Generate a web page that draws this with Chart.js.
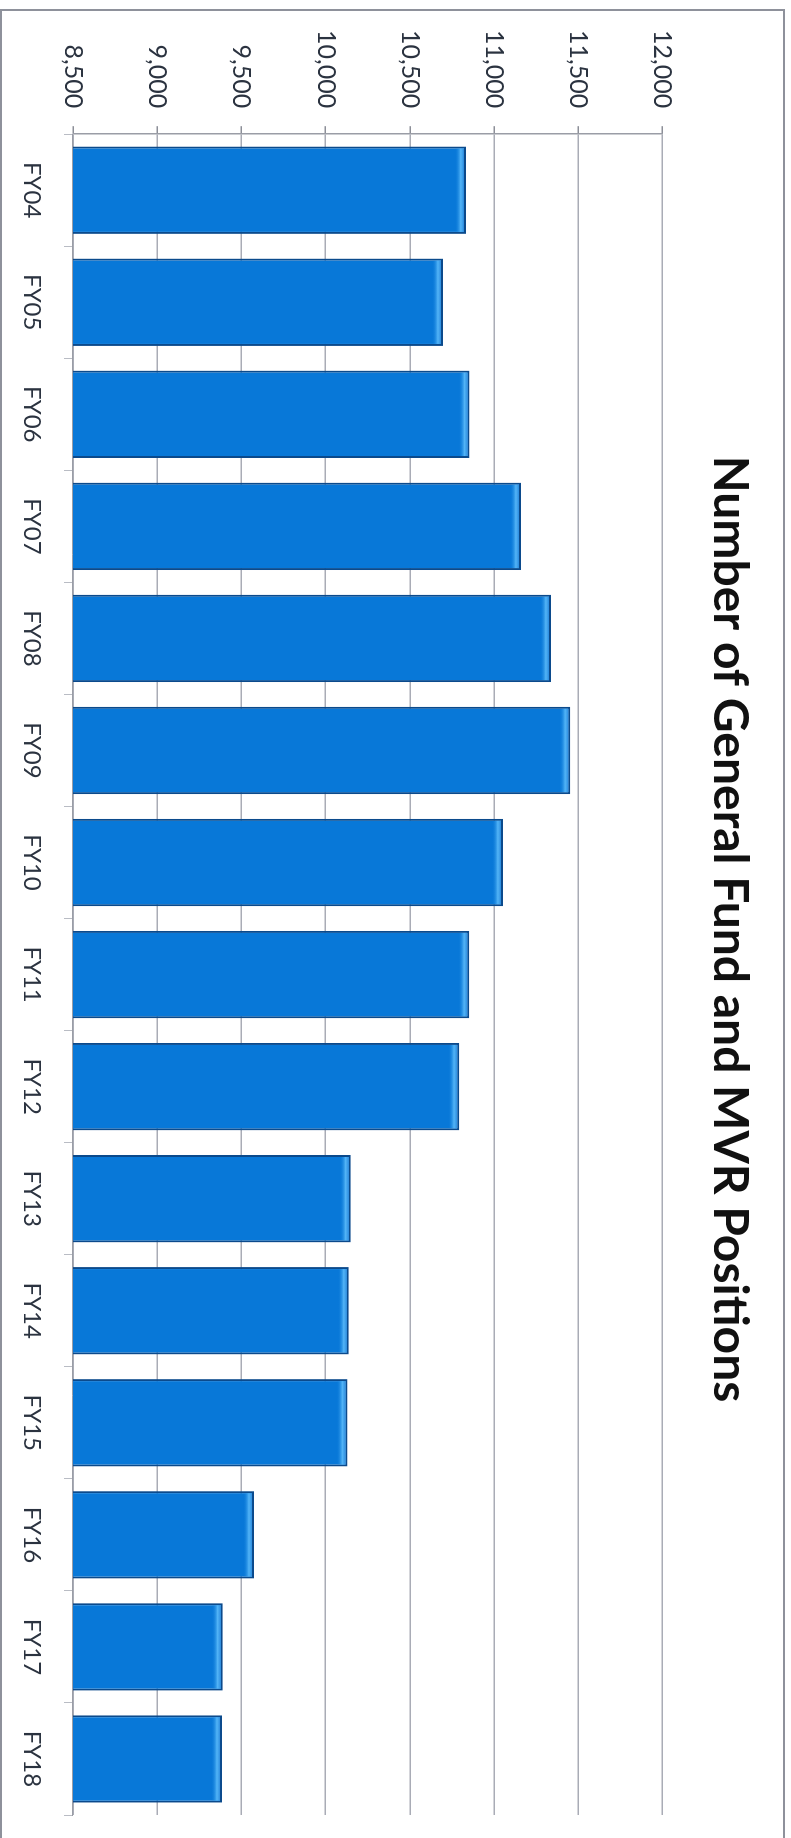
<!DOCTYPE html>
<html>
<head>
<meta charset="utf-8">
<script src="https://cdn.jsdelivr.net/npm/chart.js@4.4.0/dist/chart.umd.min.js"></script>
<style>
  html, body { margin: 0; padding: 0; background: #fff; overflow: hidden; }
  /* the chart is laid out landscape and turned a quarter clockwise onto the page */
  #wrap {
    position: absolute; left: 0; top: 0;
    width: 1838px; height: 791px;
    transform-origin: 0 0;
    transform: translateX(791px) rotate(90deg);
  }
</style>
</head>
<body>
<div id="wrap"><canvas id="positions" width="1838" height="791"></canvas></div>
<script>
const fiscalYears = ['FY04', 'FY05', 'FY06', 'FY07', 'FY08', 'FY09', 'FY10', 'FY11', 'FY12', 'FY13', 'FY14', 'FY15', 'FY16', 'FY17', 'FY18']
const positionCounts = [10833, 10697, 10855, 11160, 11338, 11453, 11053, 10853, 10793, 10149, 10138, 10130, 9575, 9389, 9385]
const countTicks = [8500, 9000, 9500, 10000, 10500, 11000, 11500, 12000]

const inkColor = '#2b3340'
const gridColor = '#a9acb6'

// white page and the thin grey frame around the chart object
const frame = {
  id: 'frame',
  beforeDraw: chart => {
    const ctx = chart.ctx
    ctx.save()
    ctx.fillStyle = '#fff'
    ctx.fillRect(0, 0, chart.width, chart.height)
    ctx.strokeStyle = '#8e919b'
    ctx.lineWidth = 2
    ctx.strokeRect(10, 7, chart.width + 20, 783)
    ctx.restore()
  },
}

// centre the title over the plot rather than the whole canvas
const titleShift = {
  id: 'titleShift',
  afterLayout: chart => {
    if (chart.titleBlock) chart.titleBlock.left += 31
  },
}

// bevel highlight just inside the end of every bar
const bevel = {
  id: 'bevel',
  afterDatasetsDraw: chart => {
    const ctx = chart.ctx
    chart.getDatasetMeta(0).data.forEach(bar => {
      const { x, y, width } = bar.getProps(['x', 'y', 'width'], true)
      const left = x - width / 2 + 2
      const w = width - 4
      const g = ctx.createLinearGradient(0, y + 2, 0, y + 11)
      g.addColorStop(0, '#2f8fe0')
      g.addColorStop(0.35, '#52b4f7')
      g.addColorStop(1, 'rgba(8,119,214,0)')
      ctx.save()
      ctx.fillStyle = g
      ctx.fillRect(left, y + 2, w, 9)
      ctx.restore()
    })
  },
}

new Chart(document.getElementById('positions'), {
  type: 'bar',
  data: {
    labels: fiscalYears,
    datasets: [{
      data: positionCounts,
      backgroundColor: '#0878d8',
      borderColor: '#0b4a8c',
      borderWidth: 2,
      barPercentage: 0.78,
      categoryPercentage: 1,
    }],
  },
  plugins: [frame, titleShift, bevel],
  options: {
    responsive: false,
    animation: false,
    layout: { padding: { left: 12, right: 23, top: 0, bottom: 0 } },
    plugins: {
      legend: { display: false },
      tooltip: { enabled: false },
      title: {
        display: true,
        text: 'Number of General Fund and MVR Positions',
        color: '#111',
        font: { family: 'Lato', weight: 'bold', size: 48 },
        padding: { top: 33, bottom: 38 },
      },
    },
    scales: {
      x: {
        offset: true,
        grid: { display: true, drawOnChartArea: false, drawTicks: true, tickLength: 9, tickColor: '#b9bcc4', offset: true },
        border: { display: true, color: '#9a9da6', width: 1 },
        ticks: { color: inkColor, font: { family: 'Lato', size: 24 }, padding: 18, maxRotation: 0 },
        afterFit: scale => { scale.height = 73 },
      },
      y: {
        min: countTicks[0],
        max: countTicks[countTicks.length - 1],
        afterBuildTicks: scale => { scale.ticks = countTicks.map(v => ({ value: v })) },
        grid: { color: gridColor, lineWidth: 1.5, tickLength: 8, tickColor: '#8c8f98' },
        border: { display: true, color: '#9a9da6', width: 1.5 },
        ticks: {
          color: inkColor,
          font: { family: 'Lato', size: 25 },
          padding: 18,
          callback: v => v.toLocaleString('en-US'),
        },
      },
    },
  },
})
</script>
</body>
</html>
